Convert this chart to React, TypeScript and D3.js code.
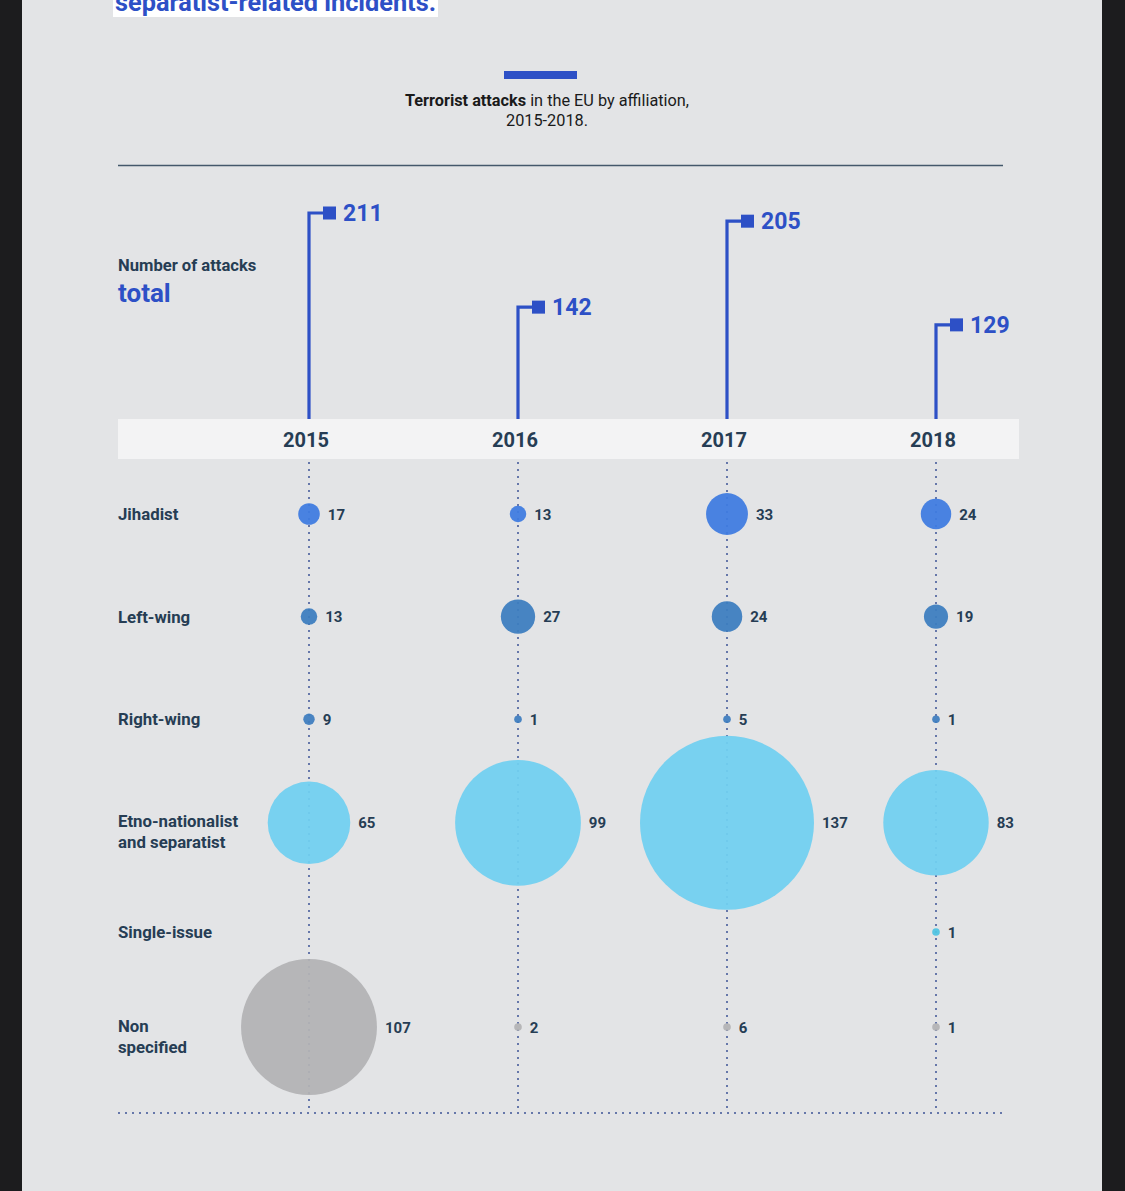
import React from "react";
import * as d3 from "d3";

const years = ["2015", "2016", "2017", "2018"];
const totals = [211, 142, 205, 129];
const categories = ["Jihadist", "Left-wing", "Right-wing", "Etno-nationalist\nand separatist", "Single-issue", "Non\nspecified"];
const jihadist = [17, 13, 33, 24];
const leftWing = [13, 27, 24, 19];
const rightWing = [9, 1, 5, 1];
const etno = [65, 99, 137, 83];
const singleIssue = [0, 0, 0, 1];
const nonSpecified = [107, 2, 6, 1];
const seriesValues = [jihadist, leftWing, rightWing, etno, singleIssue, nonSpecified];
const seriesColors = ["#3f7be0", "#3d7dbf", "#3f7dbf", "#71cff0", "#4fc3e2", "#b3b3b5"];

const FONT = "Roboto, 'Noto Sans', sans-serif";
const DARK = "#263d54";
const BLUE = "#2d50c6";

export default function App() {
  const W = 1125, H = 1191;
  const x = d3.scalePoint<string>().domain(years).range([309, 936]);
  const yTotal = d3.scaleLinear().domain([60, 211]).range([419, 213]);
  const yRow = d3.scalePoint<string>().domain(categories).range([514, 1027]);
  const rowY = (c: string, i: number) => (i === 4 ? 932 : (yRow(c) as number) + (i === 3 ? 1 : 0));
  const r = d3.scaleLinear().domain([0, 137]).range([0, 87]);
  const rad = (v: number) => Math.max(3.8, r(v));

  return (
    <svg width={W} height={H} style={{ position: "absolute", left: 0, top: 0, display: "block" }} fontFamily={FONT}>
      <rect x={0} y={0} width={W} height={H} fill="#e3e4e6" />
      <rect x={0} y={0} width={22} height={H} fill="#1c1c1e" />
      <rect x={1102} y={0} width={23} height={H} fill="#1c1c1e" />
      {/* title fragment */}
      <rect x={113} y={0} width={325} height={17} fill="#ffffff" />
      <text x={115} y={11} fontSize={25.3} fontWeight={700} fill={BLUE}>separatist-related incidents.</text>

      <rect x={504} y={71} width={73} height={8} fill={BLUE} />
      <text x={547} y={106} fontSize={16.3} textAnchor="middle" fill="#1a1a1a">
        <tspan fontWeight={700}>Terrorist attacks</tspan> in the EU by affiliation,
      </text>
      <text x={547} y={126} fontSize={16.3} textAnchor="middle" fill="#1a1a1a">2015-2018.</text>
      <line x1={118} x2={1003} y1={165.5} y2={165.5} stroke="#44586b" strokeWidth={1.3} />

      <text x={118} y={271} fontSize={16.6} fontWeight={700} fill={DARK}>Number of attacks</text>
      <text x={118} y={302} fontSize={26} fontWeight={700} fill={BLUE}>total</text>

      {years.map((yr, i) => {
        const cx = x(yr) as number;
        const ty = yTotal(totals[i]);
        return (
          <g key={"t" + yr}>
            <path d={`M${cx},419 V${ty} H${cx + 16}`} fill="none" stroke={BLUE} strokeWidth={3.2} />
            <rect x={cx + 14} y={ty - 6.5} width={13} height={13} fill={BLUE} />
            <text x={cx + 34} y={ty + 8} fontSize={23} fontWeight={700} fill={BLUE}>{totals[i]}</text>
          </g>
        );
      })}

      <rect x={118} y={419} width={901} height={40} fill="#f3f3f4" />
      {years.map((yr) => (
        <text key={"y" + yr} x={(x(yr) as number) - 3} y={447} fontSize={20} fontWeight={700} textAnchor="middle" fill={DARK}>{yr}</text>
      ))}

      {categories.map((c, i) => {
        const lines = c.split("\n");
        const cy = rowY(c, i);
        return (
          <text key={"c" + i} x={118} y={lines.length > 1 ? cy + 4.5 : cy + 6} fontSize={16.8} fontWeight={700} fill={DARK}>
            {lines.map((l, k) => (
              <tspan key={k} x={118} dy={k === 0 ? 0 : 21}>{l}</tspan>
            ))}
          </text>
        );
      })}

      {years.map((yr) => (
        <line key={"d" + yr} x1={x(yr)} x2={x(yr)} y1={462} y2={1113} stroke="#6677aa" strokeWidth={2} strokeDasharray="2 5" />
      ))}
      <line x1={118} x2={1004} y1={1113} y2={1113} stroke="#6677aa" strokeWidth={2} strokeDasharray="2 5" />

      {seriesValues.map((vals, si) => {
        const cy = rowY(categories[si], si);
        return (
          <g key={"s" + si}>
            {vals.map((v, yi) => {
              if (v <= 0) return null;
              const cx = x(years[yi]) as number;
              const rr = rad(v);
              return (
                <g key={yi}>
                  <circle cx={cx} cy={cy} r={rr} fill={seriesColors[si]} fillOpacity={0.94} />
                  <text x={cx + rr + 8} y={cy + 5.5} fontSize={15} fontWeight={700} fill={DARK}>{v}</text>
                </g>
              );
            })}
          </g>
        );
      })}
    </svg>
  );
}
